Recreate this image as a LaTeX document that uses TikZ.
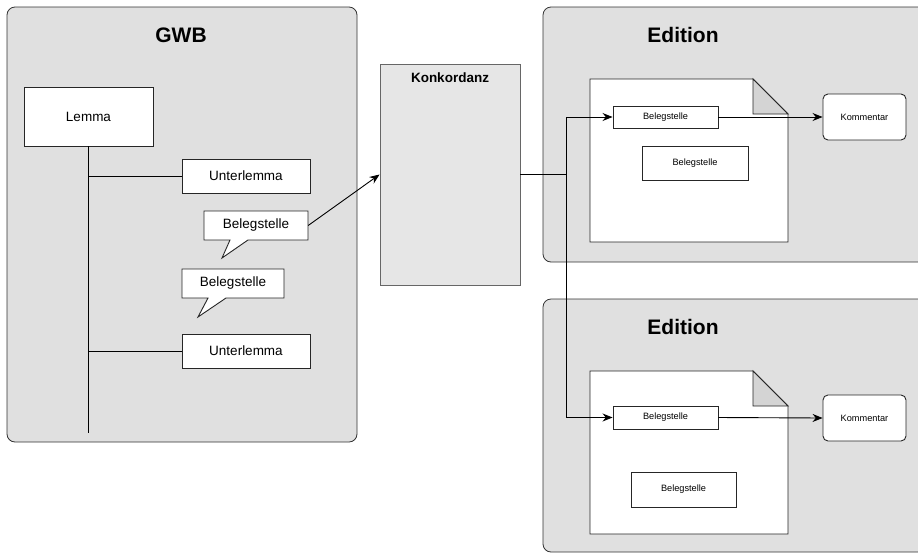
\documentclass[tikz,border=0pt]{standalone}
\usepackage{fontspec}
\setmainfont{Liberation Sans}
\usetikzlibrary{arrows.meta}

\definecolor{panelgray}{HTML}{E0E0E0}
\definecolor{konkgray}{HTML}{E6E6E6}
\definecolor{foldgray}{HTML}{D4D4D4}

\tikzset{
  panel/.style={draw=black!80, fill=panelgray, rounded corners=8pt, line width=0.8pt},
  paneltitle/.style={font=\fontsize{21}{24}\selectfont\bfseries},
  bigbox/.style={draw=black!85, fill=white, line width=0.9pt, inner sep=0pt,
    font=\fontsize{13.5}{16}\selectfont},
  smallbox/.style={draw=black!85, fill=white, line width=0.9pt, inner sep=0pt,
    font=\fontsize{9.2}{11}\selectfont},
  doc/.style={draw=black!85, fill=white, line width=0.9pt},
  fold/.style={draw=black!85, fill=foldgray, line width=0.9pt},
  conn/.style={line width=0.9pt},
  arr/.style={conn, -{Stealth[length=10pt, width=8pt]}}
}

\begin{document}
\begin{tikzpicture}[x=1pt, y=-1pt]
    \clip (0,0) rectangle (918,555);
    \fill[white] (0,0) rectangle (918,555);
    % GWB
    \filldraw[panel] (7,7) rectangle (357,442);
    \node[paneltitle] (gwb) at (181,35) {GWB};
    \node[bigbox, minimum width=129pt, minimum height=59pt] (lemma) at (88.5,116.5) {Lemma};
    \node[bigbox, minimum width=128pt, minimum height=34pt] (ul1) at (246,176) {Unterlemma};
    \node[bigbox, minimum width=128pt, minimum height=34pt] (ul2) at (246,351) {Unterlemma};
    \coordinate (trunkend) at (88.5,433);
    \draw[conn] (lemma.south) -- (trunkend);
    \draw[conn] (ul1.west) -- (ul1.west -| lemma.south);
    \draw[conn] (ul2.west) -- (ul2.west -| lemma.south);
    %
    \filldraw[doc] (204,211) -- (308,211) -- (308,240) -- (248,240) -- (222,258) -- (230,240) -- (204,240) -- cycle;
    \node[font=\fontsize{13.5}{16}\selectfont, minimum width=104pt, minimum height=29pt, inner sep=0pt] (bs1) at (256,225.5) {Belegstelle};
    \filldraw[doc] (182,269) -- (284,269) -- (284,298) -- (226,298) -- (198,317) -- (208,298) -- (182,298) -- cycle;
    \node[font=\fontsize{13.5}{16}\selectfont, minimum width=102pt, minimum height=29pt, inner sep=0pt] (bs2) at (233,283.5) {Belegstelle};
    % Konkordanz
    \node[draw=black!60, fill=konkgray, line width=0.9pt, minimum width=140pt, minimum height=221pt] (konk) at (450,174.5) {};
    \node[anchor=north, font=\fontsize{13.5}{16}\selectfont\bfseries] (konktitle) at ([yshift=-6pt]konk.north) {Konkordanz};
    \draw[arr] (bs1.east) -- (konk.west);
    % Editionen
    \filldraw[panel] (543,7) rectangle (935,262);
    \node[paneltitle] (ed1) at (683,35) {Edition};
    \filldraw[doc] (590,79) -- (753,79) -- (788,114) -- (788,242) -- (590,242) -- cycle;
    \filldraw[fold] (753,79) -- (753,114) -- (788,114) -- cycle;
    \node[smallbox, minimum width=105pt, minimum height=22pt] (eb1) at (665.5,117) {Belegstelle};
    \node[smallbox, minimum width=106pt, minimum height=34pt] (eb2) at (695,163) {Belegstelle};
    \node[smallbox, rounded corners=5pt, minimum width=83pt, minimum height=46pt] (km1) at (864.5,117) {Kommentar};
    %
    \filldraw[panel] (543,299) rectangle (935,552);
    \node[paneltitle] (ed2) at (683,327) {Edition};
    \filldraw[doc] (590,371) -- (753,371) -- (788,406) -- (788,534) -- (590,534) -- cycle;
    \filldraw[fold] (753,371) -- (753,406) -- (788,406) -- cycle;
    \node[smallbox, minimum width=105pt, minimum height=23pt] (eb3) at (665.5,417.5) {Belegstelle};
    \node[smallbox, minimum width=105pt, minimum height=35pt] (eb4) at (683.5,489.5) {Belegstelle};
    \node[smallbox, rounded corners=5pt, minimum width=83pt, minimum height=46pt] (km2) at (864.5,418) {Kommentar};
    %
    \coordinate (split) at (566,174.5);
    \draw[conn] (konk.east) -- (split);
    \draw[arr] (split) |- (eb1.west);
    \draw[arr] (split) |- (eb3.west);
    \draw[arr] (eb1.east) -- (km1.west);
    \draw[arr] (eb3.east) -- (km2.west);
  \end{tikzpicture}
\end{document}
